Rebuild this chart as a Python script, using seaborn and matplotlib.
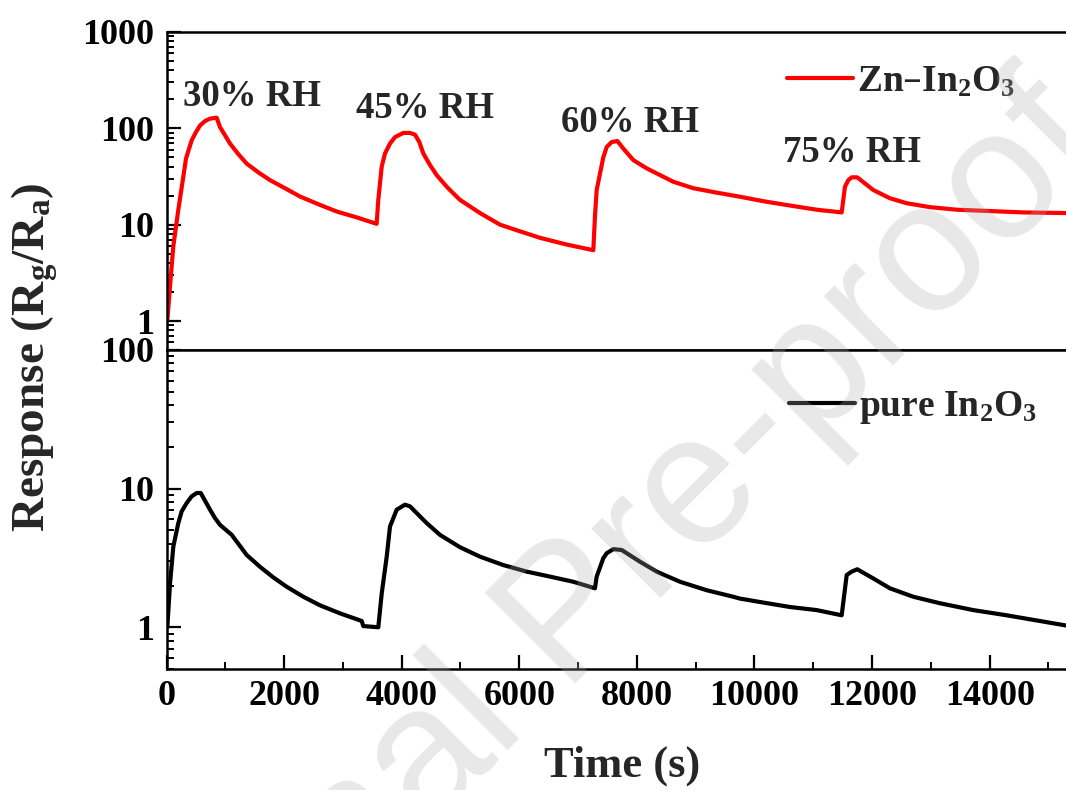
import numpy as np
import pandas as pd
import matplotlib
matplotlib.use("Agg")
import matplotlib.pyplot as plt
import seaborn as sns
from matplotlib.ticker import LogLocator, NullFormatter, FuncFormatter, MultipleLocator, FixedLocator

# ---------------- data ----------------
time_zn = [14, 60, 116, 201, 286, 332, 428, 502, 570, 655, 740, 853, 910, 995, 1080, 1221,
           1364, 1562, 1760, 2015, 2270, 2582, 2894, 3235, 3574,
           3602, 3660, 3716, 3801, 3886, 4027, 4141, 4226, 4300, 4367, 4481, 4595, 4765,
           4821, 4991, 5332, 5672, 6012, 6352, 6806, 7259,
           7287, 7316, 7429, 7486, 7571, 7667, 7769, 7939, 8167, 8619, 8959, 9357, 9753,
           10179, 10604, 11058, 11483,
           11539, 11596, 11653, 11748, 12020, 12304, 12588, 12985, 13439, 14571, 15298]
resp_zn = [1.0, 2.31, 5.97, 14.3, 31.5, 48.7, 75, 91.6, 107, 119, 126, 129, 103, 84.7, 69.5, 54,
           43, 34.9, 29, 23.9, 19.6, 16.3, 13.7, 11.9, 10.2,
           18.1, 40, 54.8, 69.5, 81, 89.6, 89.6, 86, 72, 55, 41.6, 32.7, 24.8,
           22.9, 18.1, 13.2, 10.0, 8.53, 7.3, 6.22, 5.43,
           12.2, 22.9, 50, 64, 72, 74, 61.7, 46.8, 38.4, 27.9, 23.9, 21.5, 19.5,
           17.4, 15.8, 14.3, 13.4,
           24.8, 29, 31, 31, 22.9, 18.8, 16.7, 15.2, 14.3, 13.4, 13.2]

time_pure = [14, 60, 116, 201, 258, 343, 428, 514, 582, 740, 825, 910, 1109, 1194, 1364, 1590,
             1816, 2044, 2327, 2610, 2951, 3320, 3347, 3602,
             3660, 3745, 3801, 3915, 4056, 4141, 4425, 4651, 4991, 5332, 5728, 6126, 6522,
             6918, 7287,
             7316, 7429, 7486, 7599, 7741, 8053, 8337, 8733, 9187, 9639, 9753, 10179, 10604,
             11058, 11483,
             11568, 11653, 11748, 12020, 12304, 12701, 13155, 13721, 14289, 14799, 15298]
resp_pure = [1.0, 2.07, 3.82, 5.64, 6.85, 7.87, 8.8, 9.3, 9.3, 7.05, 6.13, 5.48, 4.64, 4.15, 3.32, 2.73,
             2.29, 1.96, 1.66, 1.44, 1.26, 1.11, 1.02, 1.0,
             1.75, 3.23, 5.33, 7.05, 7.66, 7.45, 5.64, 4.64, 3.78, 3.23, 2.81, 2.52, 2.32,
             2.13, 1.91,
             2.32, 3.15, 3.42, 3.66, 3.61, 2.97, 2.52, 2.13, 1.85, 1.66, 1.61, 1.50, 1.40,
             1.33, 1.22,
             2.38, 2.52, 2.62, 2.25, 1.91, 1.66, 1.49, 1.33, 1.22, 1.12, 1.03]

rh_labels = ["30% RH", "45% RH", "60% RH", "75% RH"]
rh_label_time = [1454, 4396, 7883, 11658]
rh_label_resp = [172, 127, 91, 44.6]

series_names = ["Zn\u2013In$_2$O$_3$", "pure In$_2$O$_3$"]
x_ticks = [0, 2000, 4000, 6000, 8000, 10000, 12000, 14000]

df_zn = pd.DataFrame({"Time": time_zn, "Response": resp_zn, "Sample": series_names[0]})
df_pure = pd.DataFrame({"Time": time_pure, "Response": resp_pure, "Sample": series_names[1]})

# ---------------- style ----------------
sns.set_theme(style="ticks")
plt.rcParams.update({
    "font.family": ["Liberation Serif", "DejaVu Serif"],
    "font.weight": "bold",
    "axes.labelweight": "bold",
    "mathtext.default": "regular",
    "axes.linewidth": 1.8,
    "axes.edgecolor": "black",
    "xtick.color": "black",
    "ytick.color": "black",
})

W, H = 1066, 790
fig = plt.figure(figsize=(W / 100, H / 100), dpi=100)
left = 166.5 / W
ax_top = fig.add_axes([left, 1 - 350 / H, 1 - left, (350 - 32) / H])
ax_bot = fig.add_axes([left, 1 - 669 / H, 1 - left, (669 - 350) / H])

line_kw = dict(linewidth=3.0, sort=False, solid_joinstyle="round", solid_capstyle="round")
sns.lineplot(data=df_zn, x="Time", y="Response", ax=ax_top, color="#ff0000",
             label=series_names[0], **line_kw)
sns.lineplot(data=df_pure, x="Time", y="Response", ax=ax_bot, color="black",
             label=series_names[1], **line_kw)

fmt = FuncFormatter(lambda v, p: f"{v:g}")
for ax, ylim in ((ax_top, (0.5, 1000)), (ax_bot, (0.5, 100))):
    ax.set_yscale("log")
    ax.set_ylim(*ylim)
    ax.set_xlim(0, 15298)
    ax.yaxis.set_major_locator(LogLocator(base=10, numticks=10))
    ax.yaxis.set_minor_locator(LogLocator(base=10, subs=np.arange(2, 10), numticks=20))
    ax.yaxis.set_major_formatter(fmt)
    ax.yaxis.set_minor_formatter(NullFormatter())
    ax.spines["right"].set_visible(False)
    ax.set_xlabel("")
    ax.set_ylabel("")
    ax.tick_params(axis="y", which="major", direction="in", length=10, width=1.6,
                   labelsize=26, pad=9)
    ax.tick_params(axis="y", which="minor", direction="in", length=5, width=1.4)
    for lab in ax.get_yticklabels():
        lab.set_fontweight("bold")

ax_top.tick_params(axis="x", which="both", bottom=False, top=False, labelbottom=False)
ax_bot.xaxis.set_major_locator(FixedLocator(x_ticks))
ax_bot.xaxis.set_minor_locator(MultipleLocator(1000))
ax_bot.tick_params(axis="x", which="major", direction="in", length=10, width=1.6,
                   labelsize=26, pad=8, top=False)
ax_bot.tick_params(axis="x", which="minor", direction="in", length=5, width=1.4, top=False)
ax_bot.set_xticklabels([str(t) for t in x_ticks], fontweight="bold")

# RH annotations
for lab, tx, ty in zip(rh_labels, rh_label_time, rh_label_resp):
    ax_top.text(tx, ty, lab, ha="center", va="baseline", fontsize=26.5, fontweight="bold")

# legends
for ax, anchor in ((ax_top, (787 / W, 1 - 82 / H)), (ax_bot, (789 / W, 1 - 408 / H))):
    ax.legend(loc="center left", bbox_to_anchor=anchor, bbox_transform=fig.transFigure,
              frameon=False, handlelength=1.75, handletextpad=0.12,
              borderpad=0, borderaxespad=0, prop={"weight": "bold", "size": 27})

fig.text(35 / W, 1 - 357 / H, "Response (R$_g$/R$_a$)", rotation=90, ha="center",
         va="center", fontsize=34, fontweight="bold")
fig.text(622 / W, 1 - 777 / H, "Time (s)", ha="center", va="baseline",
         fontsize=32, fontweight="bold")

# watermark
fig.text(1110 / W, 1 - 149 / H, "Journal Pre-proof", rotation=45, rotation_mode="anchor",
         ha="right", va="baseline", fontsize=133, family="Liberation Sans",
         fontweight="normal", color=(0.68, 0.68, 0.68), alpha=0.28, zorder=10)

fig.savefig("out.png", dpi=100)
